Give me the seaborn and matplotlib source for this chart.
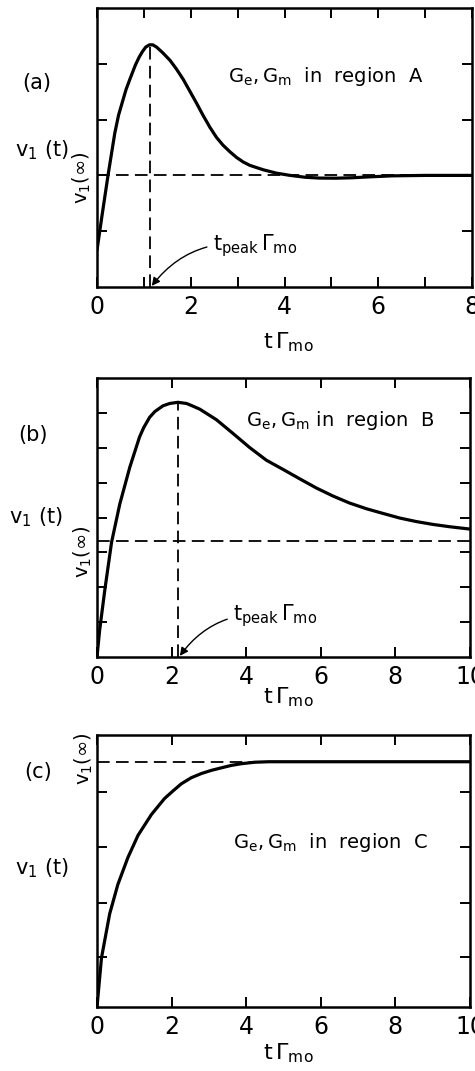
import numpy as np
import pandas as pd
import matplotlib
matplotlib.use("Agg")
import matplotlib.pyplot as plt
import seaborn as sns

# v1(t) normalised to its long-time value v1(inf) = 1, time in units of 1/Gamma_mo
# (a) G_e, G_m in region A: overshoot with a slight undershoot
t_a = [0.00, 0.10, 0.235, 0.38, 0.46, 0.55, 0.62, 0.70, 0.82, 0.90, 0.97, 1.04,
       1.12, 1.19, 1.27, 1.40, 1.56, 1.70, 1.84, 2.00, 2.12, 2.26, 2.41, 2.55,
       2.69, 2.84, 2.98, 3.12, 3.26, 3.55, 3.83, 4.12, 4.45, 4.75, 5.10, 5.45,
       5.82, 6.30, 7.00, 8.00]
v_a = [0.33, 0.62, 1.00, 1.38, 1.54, 1.67, 1.77, 1.86, 1.99, 2.06, 2.11, 2.15,
       2.17, 2.17, 2.15, 2.10, 2.03, 1.95, 1.86, 1.74, 1.65, 1.54, 1.43, 1.34,
       1.27, 1.21, 1.16, 1.12, 1.09, 1.05, 1.02, 1.00, 0.983, 0.976, 0.975, 0.979,
       0.987, 0.996, 1.00, 1.00]

# (b) G_e, G_m in region B: broad peak with slow decay
t_b = [0.00, 0.07, 0.21, 0.39, 0.61, 0.88, 1.14, 1.25, 1.41, 1.55, 1.77, 1.95,
       2.17, 2.40, 2.55, 2.76, 3.20, 3.65, 4.09, 4.54, 4.99, 5.43, 5.88, 6.33,
       6.77, 7.23, 7.67, 8.12, 8.56, 9.01, 9.46, 10.0]
v_b = [0.00, 0.23, 0.58, 0.99, 1.32, 1.64, 1.90, 1.98, 2.07, 2.12, 2.17, 2.19,
       2.20, 2.19, 2.17, 2.14, 2.05, 1.93, 1.81, 1.70, 1.62, 1.54, 1.46, 1.39,
       1.33, 1.28, 1.24, 1.20, 1.17, 1.145, 1.125, 1.105]

# (c) G_e, G_m in region C: monotonic rise
t_c = [0.00, 0.12, 0.34, 0.56, 0.83, 1.10, 1.46, 1.81, 2.03, 2.26, 2.53, 2.80,
       3.07, 3.33, 3.60, 3.87, 4.23, 4.60, 6.00, 8.00, 10.0]
v_c = [0.00, 0.20, 0.38, 0.50, 0.61, 0.70, 0.785, 0.85, 0.88, 0.91, 0.935, 0.952,
       0.965, 0.975, 0.985, 0.992, 0.998, 1.00, 1.00, 1.00, 1.00]

v_inf = 1.0
panel_labels = ["(a)", "(b)", "(c)"]
region_labels = [r"$G_e,G_m$  in  region  A", r"$G_e,G_m$ in  region  B",
                 r"$G_e,G_m$  in  region  C"]

sns.set_style("white")
plt.rcParams["font.family"] = ["DejaVu Sans"]
plt.rcParams["mathtext.fontset"] = "dejavusans"
plt.rcParams["mathtext.default"] = "regular"
for key in ["text.color", "axes.labelcolor", "xtick.color", "ytick.color",
            "axes.edgecolor"]:
    plt.rcParams[key] = "black"

W, H = 475, 1071
fig = plt.figure(figsize=(W / 100, H / 100), dpi=100)


def axes_px(left, top, right, bottom):
    return fig.add_axes([left / W, 1 - bottom / H, (right - left) / W, (bottom - top) / H])


ax_a = axes_px(97, 8, 472, 287)
ax_b = axes_px(97, 378, 470, 657)
ax_c = axes_px(97, 735, 470, 1007)

panels = [
    dict(ax=ax_a, t=t_a, v=v_a, xmax=8, xmajor=2, xminor=1, ylim=2.5,
         yticks=[0.5, 1.0, 1.5, 2.0], peak=True,
         lab=(-0.16, 0.731), vt=(-0.147, 0.491), vinf=(-0.04, 0.391),
         reg=(0.611, 0.753), tp=(0.309, 0.15), xl=(0.51, -0.155)),
    dict(ax=ax_b, t=t_b, v=v_b, xmax=10, xmajor=2, xminor=2, ylim=2.41,
         yticks=list(np.arange(1, 8) * 0.301), peak=True,
         lab=(-0.172, 0.796), vt=(-0.164, 0.502), vinf=(-0.038, 0.376),
         reg=(0.651, 0.849), tp=(0.365, 0.15), xl=(0.512, -0.1)),
    dict(ax=ax_c, t=t_c, v=v_c, xmax=10, xmajor=2, xminor=2, ylim=1.109,
         yticks=[0.204, 0.422, 0.651, 0.878], peak=False,
         lab=(-0.158, 0.864), vt=(-0.147, 0.511), vinf=(-0.035, 0.912),
         reg=(0.625, 0.603), tp=None, xl=(0.512, -0.125)),
]

dash = (0, (7, 3.5))
for p, plab, rlab in zip(panels, panel_labels, region_labels):
    ax = p["ax"]
    df = pd.DataFrame({"t": p["t"], "v": p["v"]})
    ax.axhline(v_inf, color="black", lw=1.3, ls=dash, zorder=1)
    sns.lineplot(data=df, x="t", y="v", ax=ax, color="black", lw=2.3,
                 estimator=None, sort=False, zorder=3)

    if p["peak"]:
        i = int(np.argmax(df["v"]))
        tpk, vpk = df["t"][i], df["v"][i]
        ax.vlines(tpk, 0, vpk, colors="black", lw=1.3, linestyles=dash, zorder=2)
        ax.annotate(r"$t_{peak}\,\mathit{\Gamma}_{mo}$", xy=(tpk + 0.03, 0.0),
                    xycoords="data", xytext=p["tp"], textcoords="axes fraction",
                    fontsize=15, ha="left", va="center",
                    arrowprops=dict(arrowstyle="-|>", color="black", lw=1.0,
                                    mutation_scale=12, shrinkA=2, shrinkB=1,
                                    connectionstyle="arc3,rad=0.3"))

    ax.set_xlim(0, p["xmax"])
    ax.set_ylim(0, p["ylim"])
    ax.set_xticks(np.arange(0, p["xmax"] + 0.1, p["xmajor"]))
    ax.set_xticks(np.arange(0, p["xmax"] + 0.1, p["xminor"]), minor=True)
    ax.set_xticklabels([str(int(x)) for x in np.arange(0, p["xmax"] + 0.1, p["xmajor"])])
    ax.set_yticks(p["yticks"])
    ax.set_yticklabels([])
    ax.tick_params(which="both", direction="in", length=7, width=1.4,
                   top=True, right=True, left=True, bottom=True,
                   labelsize=17, pad=6, colors="black")
    for s in ax.spines.values():
        s.set_linewidth(1.8)
        s.set_color("black")
    ax.set_ylabel("")
    ax.set_xlabel(r"$t\,\mathit{\Gamma}_{mo}$", fontsize=16)
    ax.xaxis.set_label_coords(*p["xl"])

    ax.text(*p["lab"], plab, transform=ax.transAxes, fontsize=15,
            ha="center", va="center")
    ax.text(*p["vt"], r"$v_1$ (t)", transform=ax.transAxes, fontsize=15,
            ha="center", va="center")
    ax.text(*p["vinf"], r"$v_1(\infty)$", transform=ax.transAxes, fontsize=14,
            ha="center", va="center", rotation=90)
    ax.text(*p["reg"], rlab, transform=ax.transAxes, fontsize=14,
            ha="center", va="center")

fig.savefig("out.png", dpi=100, facecolor="white")
